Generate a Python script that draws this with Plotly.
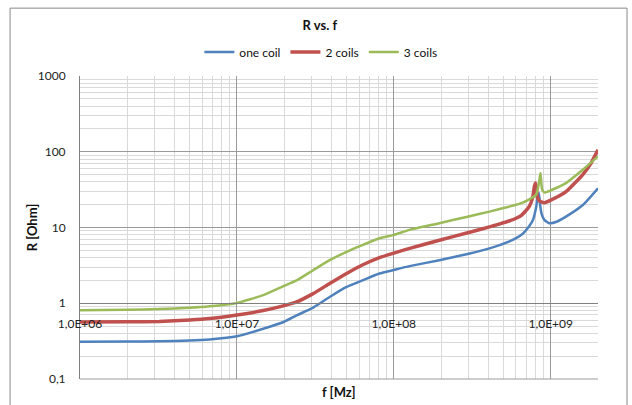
import plotly.graph_objects as go

# ---- data ----
f_one = [1e6, 2e6, 3.2e6, 5e6, 6.7e6, 1e7, 1.47e7, 2e7, 2.4e7, 3.06e7, 3.9e7, 5e7, 6.3e7, 8.1e7,
         1e8, 1.26e8, 1.95e8, 3e8, 4.07e8, 5.5e8, 6.5e8, 7.3e8, 7.7e8, 8.07e8, 8.27e8, 8.4e8,
         8.55e8, 8.75e8, 9.1e8, 9.8e8, 1.1e9, 1.25e9, 1.6e9, 2e9]
r_one = [0.31, 0.312, 0.314, 0.322, 0.333, 0.366, 0.46, 0.57, 0.69, 0.877, 1.21, 1.64, 2.0, 2.47,
         2.75, 3.09, 3.7, 4.5, 5.3, 6.6, 8.0, 10.5, 12.6, 18.5, 26, 28.5,
         20, 15, 12.6, 11.4, 12.0, 13.9, 19.8, 33]

f_two = [1e6, 2e6, 3.2e6, 5e6, 6.7e6, 1e7, 1.47e7, 2e7, 2.4e7, 3.06e7, 3.9e7, 5e7, 6.3e7, 8.1e7,
         1e8, 1.26e8, 1.95e8, 3e8, 4.07e8, 5.5e8, 6.5e8, 7.3e8, 7.67e8, 7.87e8, 8e8, 8.1e8, 8.2e8,
         8.45e8, 8.7e8, 9.1e8, 1e9, 1.25e9, 1.6e9, 1.8e9, 2e9]
r_two = [0.566, 0.568, 0.575, 0.6, 0.627, 0.70, 0.80, 0.93, 1.04, 1.34, 1.82, 2.47, 3.2, 4.0,
         4.6, 5.3, 6.8, 8.6, 10.2, 12.3, 14.5, 19, 25, 35, 38.6, 33, 25.6,
         22.5, 21.8, 21.3, 23, 29.8, 50, 70, 106]

f_three = [1e6, 2e6, 3.2e6, 5e6, 6.7e6, 1e7, 1.47e7, 2e7, 2.4e7, 3.06e7, 3.9e7, 5e7, 6.3e7, 8.1e7,
           1e8, 1.26e8, 1.95e8, 3e8, 4.07e8, 5.5e8, 6.5e8, 7.3e8, 8.07e8, 8.4e8, 8.6e8, 8.8e8,
           9.1e8, 1e9, 1.25e9, 1.6e9, 2e9]
r_three = [0.81, 0.82, 0.84, 0.87, 0.91, 1.01, 1.28, 1.7, 2.0, 2.73, 3.7, 4.78, 5.86, 7.2,
           8.0, 9.3, 11.4, 14, 16.2, 19, 21, 23.5, 27, 38.6, 52.5, 32,
           29, 31, 38.6, 57.8, 86.7]

x_tickvals = [1e6, 1e7, 1e8, 1e9]
x_ticktext = ["1,0E+06", "1,0E+07", "1,0E+08", "1,0E+09"]
y_tickvals = [0.1, 1, 10, 100, 1000]
y_ticktext = ["0,1", "1", "10", "100", "1000"]

x_minor = [m * 10 ** e for e in range(6, 10) for m in range(2, 10)]
y_minor = [m * 10.0 ** e for e in range(-1, 3) for m in range(2, 10)]

FONT = "Lato, 'Open Sans', sans-serif"
MAJOR = "#9a9a9a"
MINOR = "#d9d9d9"

fig = go.Figure()
fig.add_trace(go.Scatter(x=f_one, y=r_one, name="one coil", mode="lines",
                         line=dict(color="#4F81BD", width=2.5, shape="spline", smoothing=0.5)))
fig.add_trace(go.Scatter(x=f_two, y=r_two, name="2 coils", mode="lines",
                         line=dict(color="#C0504D", width=3.5, shape="spline", smoothing=0.5)))
fig.add_trace(go.Scatter(x=f_three, y=r_three, name="3 coils", mode="lines",
                         line=dict(color="#9BBB59", width=2.5, shape="spline", smoothing=0.5)))

fig.update_layout(
    width=632, height=405,
    margin=dict(l=80, r=34, t=76, b=26),
    paper_bgcolor="white", plot_bgcolor="white",
    font=dict(family=FONT, size=12, color="#222"),
    title=dict(text="<b>R vs. f</b>", x=0.506, xanchor="center", y=0.938, yanchor="middle",
               font=dict(family=FONT, size=13, color="#111")),
    legend=dict(orientation="h", x=0.465, xanchor="center", y=1.079, yanchor="middle",
                font=dict(family=FONT, size=12, color="#111"), itemwidth=30,
                bgcolor="rgba(0,0,0,0)", tracegroupgap=0),
    xaxis=dict(type="log", range=[6, 9.30103], tickmode="array", tickvals=x_tickvals,
               ticktext=x_ticktext, showgrid=True, gridcolor=MAJOR, gridwidth=1,
               minor=dict(tickmode="array", tickvals=x_minor, showgrid=True, gridcolor=MINOR,
                          gridwidth=1, ticks=""),
               anchor="free", position=0.25, showline=True, linecolor="#808080", linewidth=1,
               ticks="", ticklabelstandoff=9, zeroline=False,
               tickfont=dict(family=FONT, size=12, color="#222")),
    yaxis=dict(type="log", range=[-1, 3], tickmode="array", tickvals=y_tickvals,
               ticktext=y_ticktext, showgrid=True, gridcolor=MAJOR, gridwidth=1,
               minor=dict(tickmode="array", tickvals=y_minor, showgrid=True, gridcolor=MINOR,
                          gridwidth=1, ticks=""),
               showline=True, linecolor="#808080", linewidth=1, ticks="",
               ticklabelstandoff=11, zeroline=False,
               tickfont=dict(family=FONT, size=12, color="#222")),
    annotations=[
        dict(text="<b>f [Mz]</b>", xref="paper", yref="paper", x=0.5, y=-0.042,
             xanchor="center", yanchor="middle", showarrow=False,
             font=dict(family=FONT, size=13, color="#111")),
        dict(text="<b>R [Ohm]</b>", xref="paper", yref="paper", x=-0.093, y=0.5,
             xanchor="center", yanchor="middle", textangle=-90, showarrow=False,
             font=dict(family=FONT, size=13, color="#111")),
    ],
    shapes=[
        dict(type="rect", xref="paper", yref="paper", x0=-0.135, x1=1.056, y0=-0.2, y1=1.224,
             line=dict(color="#888888", width=1), fillcolor="rgba(0,0,0,0)", layer="below"),
        dict(type="line", xref="paper", yref="paper", x0=0, x1=1, y0=0, y1=0,
             line=dict(color="#9a9a9a", width=1)),
    ],
)

fig.write_html("out.html", config={"displayModeBar": False},
               post_script="document.body.style.margin='0';document.body.style.padding='0';document.body.style.overflow='hidden';")
